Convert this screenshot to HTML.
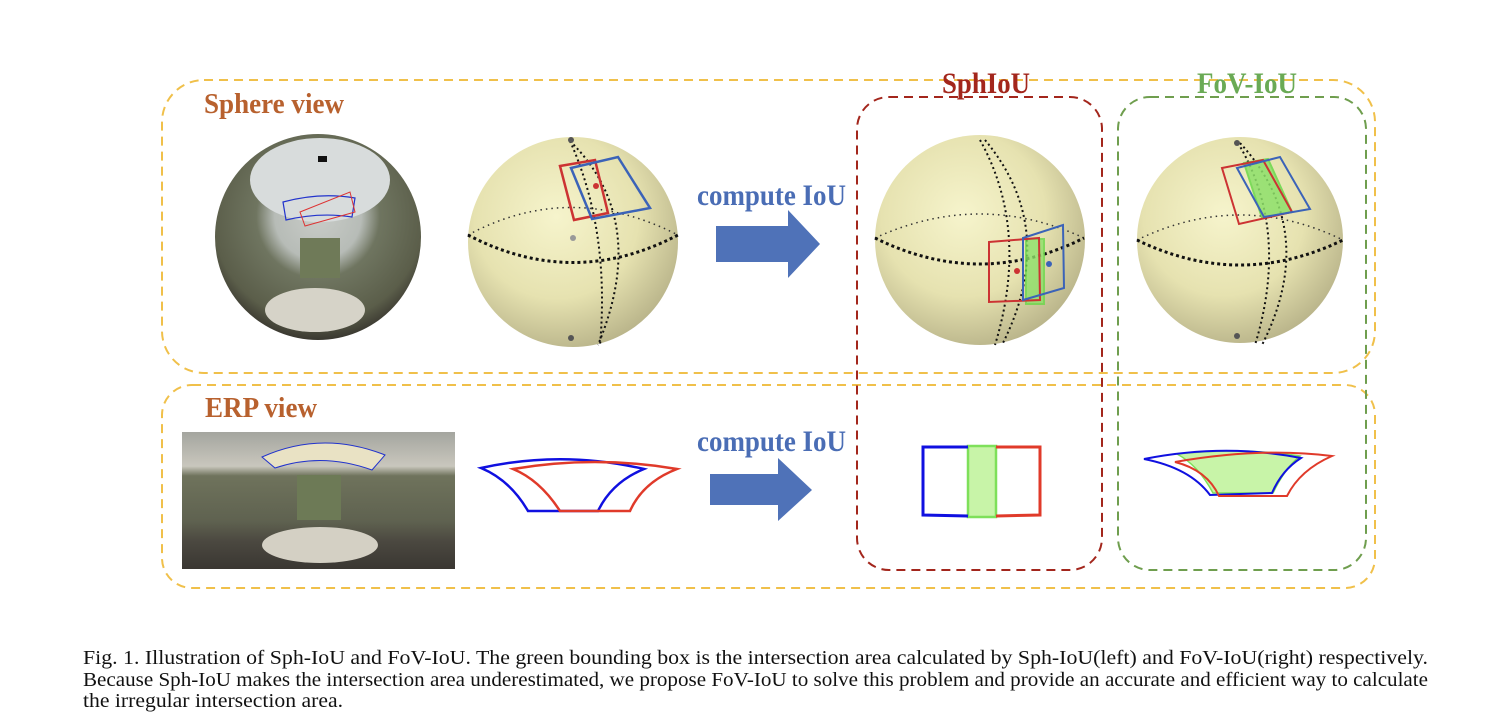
<!DOCTYPE html>
<html><head><meta charset="utf-8"><style>
html,body{margin:0;padding:0;background:#fff;}
svg{display:block;}
</style></head><body>
<svg width="1508" height="724" viewBox="0 0 1508 724" xmlns="http://www.w3.org/2000/svg">
<defs>
<radialGradient id="sph" cx="0.42" cy="0.38" r="0.65">
<stop offset="0" stop-color="#f6f4cc"/><stop offset="0.6" stop-color="#e6e2b0"/><stop offset="1" stop-color="#b9b48a"/>
</radialGradient>
<radialGradient id="room" cx="0.5" cy="0.4" r="0.6">
<stop offset="0" stop-color="#c9ccc8"/><stop offset="0.35" stop-color="#b7bcb7"/><stop offset="0.5" stop-color="#6f7560"/><stop offset="0.85" stop-color="#5b5e4a"/><stop offset="1" stop-color="#3a3830"/>
</radialGradient>
<linearGradient id="erp" x1="0" y1="0" x2="0" y2="1">
<stop offset="0" stop-color="#a4a59f"/><stop offset="0.25" stop-color="#c9c7bd"/><stop offset="0.32" stop-color="#6f735c"/><stop offset="0.65" stop-color="#5f6250"/><stop offset="0.8" stop-color="#4b4840"/><stop offset="1" stop-color="#3a3732"/>
</linearGradient>
</defs>
<g fill="none" stroke-width="2" stroke-dasharray="9,6">
<rect x="162" y="80" width="1213" height="293" rx="42" stroke="#f0c04a"/>
<rect x="162" y="385" width="1213" height="203" rx="30" stroke="#f0c04a"/>
<rect x="857" y="97" width="245" height="473" rx="32" stroke="#a3261c"/>
<rect x="1118" y="97" width="248" height="473" rx="32" stroke="#6f9e4e"/>
</g>
<g font-family="Liberation Serif, serif" font-weight="bold" lengthAdjust="spacingAndGlyphs">
<text x="942" y="93" font-size="30" fill="#a3261c" textLength="88" lengthAdjust="spacingAndGlyphs">SphIoU</text>
<text x="1197" y="93" font-size="30" fill="#6aaa55" textLength="100" lengthAdjust="spacingAndGlyphs">FoV-IoU</text>
<text x="204" y="113" font-size="28" fill="#b8612e" textLength="140" lengthAdjust="spacingAndGlyphs">Sphere view</text>
<text x="205" y="417" font-size="28" fill="#b8612e" textLength="112" lengthAdjust="spacingAndGlyphs">ERP view</text>
<text x="697" y="205" font-size="30" fill="#4a6db5" textLength="149" lengthAdjust="spacingAndGlyphs">compute IoU</text>
<text x="697" y="451" font-size="30" fill="#4a6db5" textLength="149" lengthAdjust="spacingAndGlyphs">compute IoU</text>
</g>
<polygon points="716,226 788,226 788,210 820,244 788,278 788,262 716,262" fill="#4f72b8"/>
<polygon points="710,474 778,474 778,458 812,490 778,521 778,505 710,505" fill="#4f72b8"/>
<!-- fisheye -->
<circle cx="318" cy="237" r="103" fill="url(#room)"/>
<ellipse cx="320" cy="180" rx="70" ry="42" fill="#d8dcdc"/>
<rect x="300" y="238" width="40" height="40" fill="#6f7a58"/>
<ellipse cx="315" cy="310" rx="50" ry="22" fill="#d6d3c8"/>
<path d="M283,202 Q320,192 355,198 L352,217 Q320,212 286,220 Z" fill="none" stroke="#2233cc" stroke-width="1.2"/>
<path d="M300,212 L350,192 L355,212 L305,226 Z" fill="none" stroke="#d33" stroke-width="1"/>
<rect x="318" y="156" width="9" height="6" fill="#111"/>
<!-- ERP -->
<rect x="182" y="432" width="273" height="137" fill="url(#erp)"/>
<ellipse cx="320" cy="545" rx="58" ry="18" fill="#d4d0c4"/>
<rect x="297" y="475" width="44" height="45" fill="#6d7a56"/>
<path d="M262,457 Q322,430 385,455 L372,470 Q322,452 275,468 Z" fill="#e9e2c4" stroke="#2233cc" stroke-width="1"/>
<g>
<circle cx="573" cy="242" r="105" fill="url(#sph)"/>
<path d="M468,235 Q570,180 678,235" fill="none" stroke="#333" stroke-width="1.5" stroke-dasharray="1.5,4"/>
<path d="M468,235 Q573,290 678,235" fill="none" stroke="#111" stroke-width="3" stroke-dasharray="3,3"/>
<path d="M570,141 Q610,230 600,345" fill="none" stroke="#111" stroke-width="2" stroke-dasharray="2,3"/>
<path d="M570,141 Q650,220 598,345" fill="none" stroke="#111" stroke-width="2" stroke-dasharray="2,3"/>
<path d="M560,166 L595,160 L608,213 L574,220 Z" fill="none" stroke="#c33" stroke-width="2.5"/>
<path d="M571,168 L618,157 L650,208 L592,219 Z" fill="none" stroke="#3b63b8" stroke-width="2.5"/>
<circle cx="571" cy="140" r="3" fill="#555"/><circle cx="571" cy="338" r="3" fill="#555"/>
<circle cx="596" cy="186" r="3" fill="#c33"/><circle cx="573" cy="238" r="3" fill="#999"/>
</g>
<g>
<circle cx="980" cy="240" r="105" fill="url(#sph)"/>
<path d="M875,238 Q980,190 1084,238" fill="none" stroke="#333" stroke-width="1.5" stroke-dasharray="1.5,4"/>
<path d="M875,238 Q980,290 1084,238" fill="none" stroke="#111" stroke-width="3" stroke-dasharray="3,3"/>
<path d="M980,140 Q1030,230 995,345" fill="none" stroke="#111" stroke-width="2" stroke-dasharray="2,3"/>
<path d="M985,140 Q1060,230 1002,345" fill="none" stroke="#111" stroke-width="2" stroke-dasharray="2,3"/>
<rect x="1026" y="239" width="18" height="65" fill="#8ee06a" stroke="#6ad84a" stroke-width="2" opacity="0.8"/>
<path d="M989,242 L1039,238 L1040,300 L989,302 Z" fill="none" stroke="#c33" stroke-width="2"/>
<path d="M1023,238 L1063,225 L1064,288 L1023,300 Z" fill="none" stroke="#3b63b8" stroke-width="2"/>
<circle cx="1017" cy="271" r="3" fill="#c33"/><circle cx="1049" cy="264" r="3" fill="#3b63b8"/>
</g>
<g>
<circle cx="1240" cy="240" r="103" fill="url(#sph)"/>
<path d="M1137,240 Q1240,190 1343,240" fill="none" stroke="#333" stroke-width="1.5" stroke-dasharray="1.5,4"/>
<path d="M1137,240 Q1240,290 1343,240" fill="none" stroke="#111" stroke-width="3" stroke-dasharray="3,3"/>
<path d="M1238,143 Q1290,230 1255,345" fill="none" stroke="#111" stroke-width="2" stroke-dasharray="2,3"/>
<path d="M1240,143 Q1320,230 1262,345" fill="none" stroke="#111" stroke-width="2" stroke-dasharray="2,3"/>
<path d="M1244,163 L1268,159 L1292,212 L1262,218 Z" fill="#8ee06a" stroke="#6ad84a" stroke-width="2" opacity="0.85"/>
<path d="M1222,168 L1263,160 L1292,212 L1239,224 Z" fill="none" stroke="#c33" stroke-width="2"/>
<path d="M1237,168 L1280,157 L1310,209 L1264,217 Z" fill="none" stroke="#3b63b8" stroke-width="2"/>
<circle cx="1237" cy="143" r="3" fill="#555"/><circle cx="1237" cy="336" r="3" fill="#555"/>
</g>
<path d="M481,468 Q562,450 644,469 Q612,482 598,511 L528,511 Q510,480 481,468 Z" fill="none" stroke="#1010e0" stroke-width="2.5"/>
<path d="M513,469 Q595,455 677,469 Q643,482 630,511 L560,511 Q540,480 513,469 Z" fill="none" stroke="#e03a2a" stroke-width="2.5"/>
<rect x="968" y="446" width="28" height="71" fill="#c8f4a8" stroke="#7ee05a" stroke-width="2.5"/>
<path d="M968,447 L923,447 L923,515 L968,516" fill="none" stroke="#1010e0" stroke-width="3"/>
<path d="M996,447 L1040,447 L1040,515 L996,516" fill="none" stroke="#e03a2a" stroke-width="3"/>
<path d="M1177,454 Q1240,447 1300,456 Q1285,468 1273,493 L1213,493 Q1198,465 1177,454 Z" fill="#c8f4a8" stroke="#7ee05a" stroke-width="1.5"/>
<path d="M1144,459 Q1225,443 1301,458 Q1282,470 1272,493 L1210,495 Q1190,468 1144,459 Z" fill="none" stroke="#1010e0" stroke-width="2"/>
<path d="M1175,462 Q1260,447 1332,456 Q1300,470 1287,496 L1219,496 Q1207,470 1175,462 Z" fill="none" stroke="#e03a2a" stroke-width="2"/>
<g font-family="Liberation Serif, serif" font-size="20" fill="#111">
<text x="83" y="664" textLength="1345" lengthAdjust="spacingAndGlyphs">Fig. 1.  Illustration of Sph-IoU and FoV-IoU. The green bounding box is the intersection area calculated by Sph-IoU(left) and FoV-IoU(right) respectively.</text>
<text x="83" y="686" textLength="1345" lengthAdjust="spacingAndGlyphs">Because Sph-IoU makes the intersection area underestimated, we propose FoV-IoU to solve this problem and provide an accurate and efficient way to calculate</text>
<text x="83" y="707" textLength="260" lengthAdjust="spacingAndGlyphs">the irregular intersection area.</text>
</g>
</svg>
</body></html>
